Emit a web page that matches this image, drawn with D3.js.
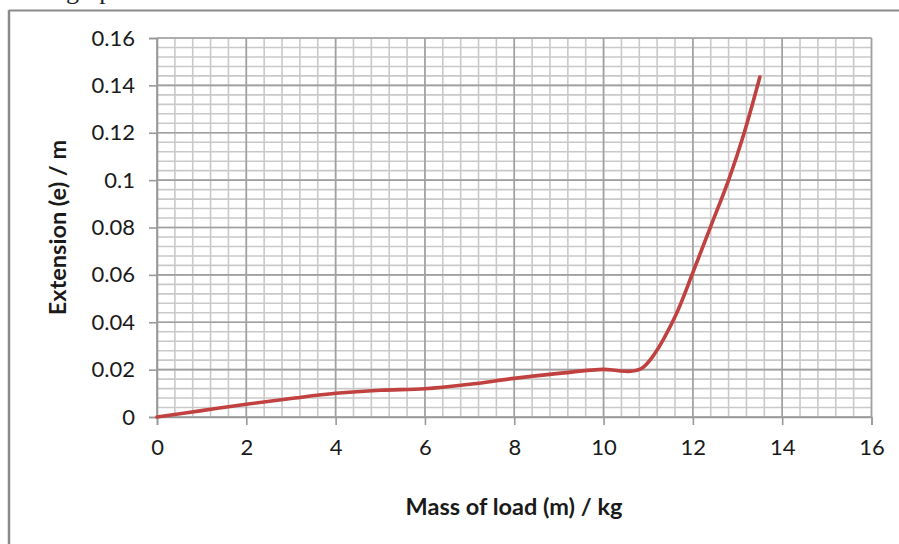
<!DOCTYPE html>
<html><head><meta charset="utf-8">
<script src="https://cdn.jsdelivr.net/npm/d3@7"></script>
<style>body{margin:0;background:#fff}svg{display:block}</style>
</head><body>
<svg id="c" width="899" height="544"></svg>
<script>
const massKg = [0, 1, 2, 3, 4, 5, 6, 7, 8, 9, 10, 10.3, 10.6, 10.85, 11.1, 11.6, 12, 12.4, 12.8, 13.15, 13.5];
const extensionM = [0, 0.0027, 0.0054, 0.0078, 0.0100, 0.0113, 0.0119, 0.0138, 0.0163, 0.0184, 0.0201, 0.0196, 0.0193, 0.0205, 0.0255, 0.0423, 0.0610, 0.0805, 0.1000, 0.1200, 0.1435];
const xTickValues = [0, 2, 4, 6, 8, 10, 12, 14, 16];
const yTickValues = [0, 0.02, 0.04, 0.06, 0.08, 0.1, 0.12, 0.14, 0.16];
const yTickLabels = ["0", "0.02", "0.04", "0.06", "0.08", "0.1", "0.12", "0.14", "0.16"];
const xTitle = "Mass of load (m) / kg";
const yTitle = "Extension (e) / m";

const svg = d3.select("#c");
svg.append("rect").attr("width", 899).attr("height", 544).attr("fill", "#fff");

// document frame fragments
svg.append("text").attr("x", 66).attr("y", -1).attr("font-family", "Liberation Serif").attr("font-size", 26).attr("fill", "#222").text("graph");
svg.append("line").attr("x1", 9).attr("x2", 899).attr("y1", 10.5).attr("y2", 10.5).attr("stroke", "#8a8a8a").attr("stroke-width", 2);
svg.append("line").attr("x1", 9).attr("x2", 9).attr("y1", 10).attr("y2", 544).attr("stroke", "#8a8a8a").attr("stroke-width", 2.5);

const L = 157, R = 871.5, T = 38, B = 417;
const x = d3.scaleLinear().domain([0, 16]).range([L, R]);
const y = d3.scaleLinear().domain([0, 0.16]).range([B, T]);

const g = svg.append("g");
// minor grid
const minorX = d3.range(0, 41).map(i => i * 0.4);
const minorY = d3.range(0, 41).map(i => i * 0.004);
g.selectAll(".mx").data(minorX).join("line")
  .attr("x1", d => x(d)).attr("x2", d => x(d)).attr("y1", T).attr("y2", B)
  .attr("stroke", "#c9c9c9").attr("stroke-width", 1.6);
g.selectAll(".my").data(minorY).join("line")
  .attr("y1", d => y(d)).attr("y2", d => y(d)).attr("x1", L).attr("x2", R)
  .attr("stroke", "#c9c9c9").attr("stroke-width", 1.6);
// major grid
g.selectAll(".Mx").data(xTickValues).join("line")
  .attr("x1", d => x(d)).attr("x2", d => x(d)).attr("y1", T).attr("y2", B)
  .attr("stroke", "#a0a0a0").attr("stroke-width", 1.6);
g.selectAll(".My").data(yTickValues).join("line")
  .attr("y1", d => y(d)).attr("y2", d => y(d)).attr("x1", L).attr("x2", R)
  .attr("stroke", "#a0a0a0").attr("stroke-width", 1.6);

// axes
const fontFam = "Lato, 'Open Sans', sans-serif";
const xAxis = d3.axisBottom(x).tickValues(xTickValues).tickSize(8).tickPadding(14).tickFormat(d3.format("d"));
const yAxis = d3.axisLeft(y).tickValues(yTickValues).tickSize(8).tickPadding(14).tickFormat((d, i) => yTickLabels[i]);
const gx = svg.append("g").attr("transform", `translate(0,${B})`).call(xAxis);
const gy = svg.append("g").attr("transform", `translate(${L},0)`).call(yAxis);
[gx, gy].forEach(a => {
  a.select(".domain").attr("stroke", "#9a9a9a").attr("stroke-width", 1.6);
  a.selectAll(".tick line").attr("stroke", "#9a9a9a").attr("stroke-width", 1.6);
  a.selectAll("text").attr("font-family", fontFam).attr("font-size", 22).attr("fill", "#1a1a1a");
});
gx.selectAll("text").attr("dy", "0.71em");

// titles
svg.append("text").attr("x", 514).attr("y", 515).attr("text-anchor", "middle")
  .attr("font-family", fontFam).attr("font-weight", "bold").attr("font-size", 23.5).attr("fill", "#1a1a1a").text(xTitle);
svg.append("text").attr("transform", `translate(66,${(T + B) / 2}) rotate(-90)`).attr("text-anchor", "middle")
  .attr("font-family", fontFam).attr("font-weight", "bold").attr("font-size", 23.5).attr("fill", "#1a1a1a").text(yTitle);

// line
const pts = massKg.map((m, i) => [m, extensionM[i]]);
svg.append("path").datum(pts)
  .attr("d", d3.line().x(d => x(d[0])).y(d => y(d[1])).curve(d3.curveCatmullRom.alpha(0.5)))
  .attr("fill", "none").attr("stroke", "#c0413f").attr("stroke-width", 3.6).attr("stroke-linecap", "round");
</script>
</body></html>
